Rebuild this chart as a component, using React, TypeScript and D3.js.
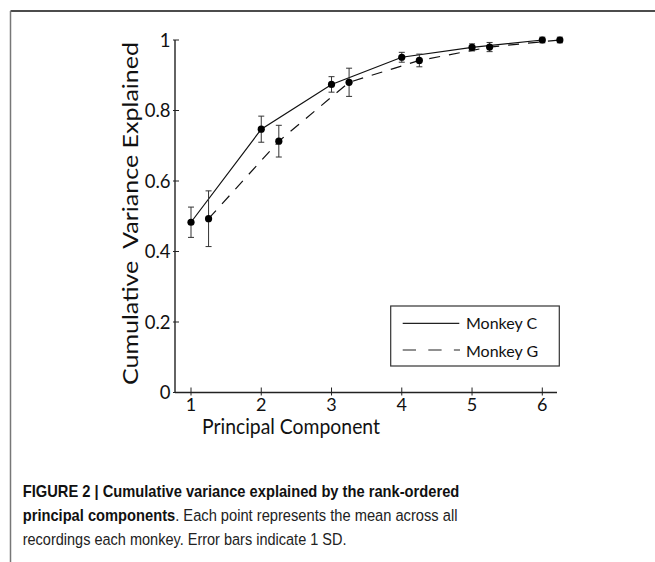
import React, { useLayoutEffect, useRef, useState } from "react";
import * as d3 from "d3";

// Cumulative variance explained per principal component, mean ± SD
const components = [1, 2, 3, 4, 5, 6];
const monkeyCMean = [0.483, 0.747, 0.874, 0.951, 0.979, 1.0];
const monkeyCSD = [0.043, 0.037, 0.022, 0.014, 0.01, 0.008];
const monkeyGMean = [0.493, 0.713, 0.88, 0.942, 0.98, 1.0];
const monkeyGSD = [0.079, 0.045, 0.04, 0.018, 0.013, 0.008];
const gOffset = 0.25;

const yTicks = [0, 0.2, 0.4, 0.6, 0.8, 1];
const yTickLabels = ["0", "0.2", "0.4", "0.6", "0.8", "1"];
const xTicks = [1, 2, 3, 4, 5, 6];

const seriesNames = ["Monkey C", "Monkey G"];

const W = 655;
const H = 562;
const axisFont = "Lato, 'Noto Sans', sans-serif";
const captionFont = "'Liberation Sans', Arial, sans-serif";

// A caption line squeezed horizontally so it spans a fixed width (condensed look)
function FitLine({
  x,
  y,
  width,
  children,
  ...rest
}: {
  x: number;
  y: number;
  width: number;
  children: React.ReactNode;
  [k: string]: any;
}) {
  const ref = useRef<SVGTextElement>(null);
  const [sx, setSx] = useState(1);
  useLayoutEffect(() => {
    if (ref.current) {
      const natural = ref.current.getComputedTextLength();
      if (natural > 0) setSx(width / natural);
    }
  }, [width]);
  return (
    <g transform={`translate(${x},${y}) scale(${sx},1)`}>
      <text ref={ref} x={0} y={0} {...rest}>
        {children}
      </text>
    </g>
  );
}

export default function App() {
  const x = d3.scaleLinear().domain([1, 6]).range([191, 542.3]);
  const y = d3.scaleLinear().domain([0, 1]).range([392.5, 40]);
  const xAxisStart = 175;
  const xAxisEnd = 557;

  const line = d3
    .line<[number, number]>()
    .x((d) => x(d[0]))
    .y((d) => y(d[1]));

  const cPts: [number, number][] = components.map((c, i) => [c, monkeyCMean[i]]);
  const gPts: [number, number][] = components.map((c, i) => [c + gOffset, monkeyGMean[i]]);

  const errorBars = (pts: [number, number][], sd: number[], key: string) =>
    pts.map((p, i) => {
      const cx = x(p[0]);
      const top = y(p[1] + sd[i]);
      const bot = y(p[1] - sd[i]);
      return (
        <g key={`${key}-${i}`} stroke="#333" strokeWidth={1}>
          <line x1={cx} x2={cx} y1={top} y2={bot} />
          <line x1={cx - 3} x2={cx + 3} y1={top} y2={top} />
          <line x1={cx - 3} x2={cx + 3} y1={bot} y2={bot} />
        </g>
      );
    });

  return (
    <svg
      width={W}
      height={H}
      style={{ position: "absolute", left: 0, top: 0, background: "#fff" }}
    >
      {/* page frame */}
      <line x1={10.5} x2={W} y1={11} y2={11} stroke="#111" strokeWidth={1.5} />
      <line x1={10.5} x2={10.5} y1={11} y2={H} stroke="#777" strokeWidth={1.5} />

      {/* axes */}
      <line x1={xAxisStart} x2={xAxisStart} y1={y(1)} y2={y(0)} stroke="#222" strokeWidth={1.4} />
      <line x1={xAxisStart} x2={xAxisEnd} y1={y(0)} y2={y(0)} stroke="#222" strokeWidth={1.4} />
      {yTicks.map((t, i) => (
        <g key={`yt-${t}`}>
          <line x1={xAxisStart - 2} x2={xAxisStart + 4} y1={y(t)} y2={y(t)} stroke="#222" strokeWidth={1} />
          <text
            x={170.5}
            y={y(t) + 6.5}
            textAnchor="end"
            fontFamily={axisFont}
            fontSize={18.5}
            fill="#111"
          >
            {yTickLabels[i]}
          </text>
        </g>
      ))}
      {xTicks.map((t) => (
        <g key={`xt-${t}`}>
          <line x1={x(t)} x2={x(t)} y1={y(0) - 5} y2={y(0) + 3} stroke="#222" strokeWidth={1} />
          <text
            x={x(t)}
            y={411}
            textAnchor="middle"
            fontFamily={axisFont}
            fontSize={18}
            fill="#111"
          >
            {t}
          </text>
        </g>
      ))}

      <text
        x={202}
        y={434}
        fontFamily={axisFont}
        fontSize={21.5}
        fill="#111"
        textLength={178}
        lengthAdjust="spacingAndGlyphs"
      >
        Principal Component
      </text>
      <text
        transform={`translate(138, 385) rotate(-90)`}
        fontFamily={axisFont}
        fontSize={22}
        fill="#111"
        textLength={343}
        lengthAdjust="spacingAndGlyphs"
        style={{ whiteSpace: "pre" }}
      >
        {"Cumulative  Variance Explained"}
      </text>

      {/* series lines */}
      <path d={line(cPts) ?? ""} fill="none" stroke="#111" strokeWidth={1.2} />
      <path
        d={line(gPts) ?? ""}
        fill="none"
        stroke="#111"
        strokeWidth={1.2}
        strokeDasharray="11,9"
      />

      {errorBars(cPts, monkeyCSD, "c")}
      {errorBars(gPts, monkeyGSD, "g")}

      {cPts.map((p, i) => (
        <circle key={`cp-${i}`} cx={x(p[0])} cy={y(p[1])} r={3.6} fill="#000" />
      ))}
      {gPts.map((p, i) => (
        <circle key={`gp-${i}`} cx={x(p[0])} cy={y(p[1])} r={3.6} fill="#000" />
      ))}

      {/* legend */}
      <rect x={390.7} y={306} width={168.6} height={60} fill="#fff" stroke="#333" strokeWidth={1.2} />
      <line x1={402.7} x2={459.3} y1={323.3} y2={323.3} stroke="#222" strokeWidth={1.2} />
      <line
        x1={402.7}
        x2={460}
        y1={350}
        y2={350}
        stroke="#222"
        strokeWidth={1.2}
        strokeDasharray="13.3,12.3"
      />
      <text x={466} y={329.3} fontFamily={axisFont} fontSize={16} fill="#111">
        {seriesNames[0]}
      </text>
      <text x={466} y={356.7} fontFamily={axisFont} fontSize={16} fill="#111">
        {seriesNames[1]}
      </text>

      {/* caption */}
      <FitLine
        x={22.7}
        y={497}
        width={437}
        fontFamily={captionFont}
        fontSize={17}
        fontWeight="bold"
        fill="#111"
      >
        FIGURE 2 | Cumulative variance explained by the rank-ordered
      </FitLine>
      <FitLine x={22.7} y={521} width={435} fontFamily={captionFont} fontSize={17} fill="#222">
        <tspan fontWeight="bold" fill="#111">
          principal components
        </tspan>
        <tspan>. Each point represents the mean across all</tspan>
      </FitLine>
      <FitLine x={22.7} y={545} width={324} fontFamily={captionFont} fontSize={17} fill="#222">
        recordings each monkey. Error bars indicate 1 SD.
      </FitLine>
    </svg>
  );
}
